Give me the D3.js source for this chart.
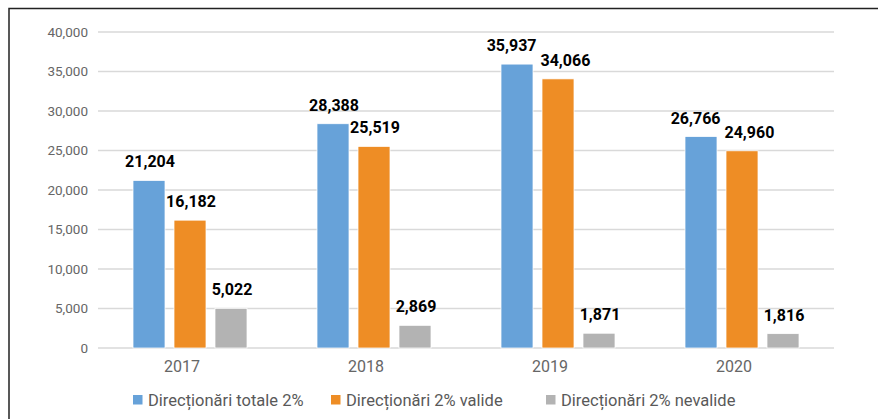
<!DOCTYPE html>
<html><head><meta charset="utf-8">
<script src="https://cdn.jsdelivr.net/npm/d3@7"></script>
<style>html,body{margin:0;padding:0;background:#fff;}svg{display:block;font-family:Roboto,"Noto Sans",sans-serif;}</style>
</head><body>
<svg id="c" width="878" height="419"></svg>
<script>
const categories = ["2017","2018","2019","2020"];
const seriesNames = ["Direcționări totale 2%","Direcționări 2% valide","Direcționări 2% nevalide"];
const totale = [21204, 28388, 35937, 26766];
const valide = [16182, 25519, 34066, 24960];
const nevalide = [5022, 2869, 1871, 1816];
const yTicks = [0,5000,10000,15000,20000,25000,30000,35000,40000];
const colors = ["#67a2d9","#ee8d25","#b3b3b3"];

const series = [totale, valide, nevalide];
const svg = d3.select("#c");
// outer frame (top and left edges visible)
svg.append("path").attr("d","M9,419V8.5H878").attr("fill","none").attr("stroke","#222").attr("stroke-width",1.5);

const x0 = d3.scaleBand().domain(categories).range([98,834]);
const y = d3.scaleLinear().domain([0,40000]).range([348,32]);
const barW = 32, gap = 9;
const x1 = d3.scaleBand().domain(d3.range(3)).range([0, barW*3+gap*2]).paddingInner(gap/(barW+gap));

// gridlines
svg.append("g").selectAll("line").data(yTicks).join("line")
  .attr("x1",98).attr("x2",834).attr("y1",d=>y(d)).attr("y2",d=>y(d))
  .attr("stroke","#d9d9d9").attr("stroke-width",1.5);

// y axis
const yAxis = d3.axisLeft(y).tickValues(yTicks).tickFormat(d3.format(",")).tickSize(0).tickPadding(0);
const ga = svg.append("g").attr("transform","translate(88,0)").call(yAxis);
ga.select(".domain").remove();
ga.selectAll("text").attr("fill","#666").style("font-size","13.5px").style("font-family","Roboto");

// x axis
const xAxis = d3.axisBottom(x0).tickSize(0).tickPadding(0);
const gx = svg.append("g").attr("transform","translate(-8,361)").call(xAxis);
gx.select(".domain").remove();
gx.selectAll("text").attr("fill","#666").attr("dy","0.71em").style("font-size","16px").style("font-family","Roboto");

// bars
const groupOffset = (x0.bandwidth() - (barW*3+gap*2))/2;
const labelSel = [];
series.forEach((vals,si)=>{
  const g = svg.append("g");
  g.selectAll("rect").data(vals).join("rect")
    .attr("x",(d,i)=>x0(categories[i])+groupOffset+x1(si))
    .attr("y",d=>y(d)).attr("width",x1.bandwidth()).attr("height",d=>y(0)-y(d))
    .attr("fill",colors[si]).attr("stroke","#fff").attr("stroke-width",0.75);
  labelSel.push(g.selectAll("text").data(vals).join("text")
    .attr("x",(d,i)=>x0(categories[i])+groupOffset+x1(si)+x1.bandwidth()/2+1)
    .attr("y",d=>y(d)-13)
    .attr("text-anchor","middle").attr("fill","#000")
    .style("font-size","16px").style("font-weight","bold").style("font-family","Roboto")
    .text(d=>d3.format(",")(d)));
});

// resolve overlapping labels between neighbouring series (like the spreadsheet does)
categories.forEach((c,i)=>{
  const a = labelSel[0].nodes()[i], b = labelSel[1].nodes()[i];
  const ya = +a.getAttribute("y"), yb = +b.getAttribute("y");
  if (Math.abs(ya-yb) < 18) {
    const ba = a.getBBox(), bb = b.getBBox();
    const overlap = (ba.x+ba.width+4) - bb.x;
    if (overlap > 0) {
      a.setAttribute("x", +a.getAttribute("x") - overlap/2);
      b.setAttribute("x", +b.getAttribute("x") + overlap/2);
    }
  }
});

// legend
const legendX = [133, 331, 546];
const lg = svg.append("g");
seriesNames.forEach((n,i)=>{
  lg.append("rect").attr("x",legendX[i]).attr("y",395).attr("width",9.5).attr("height",9.5).attr("fill",colors[i]);
  lg.append("text").attr("x",legendX[i]+15).attr("y",406).attr("fill","#595959")
    .style("font-size","16.5px").style("font-family","Roboto").text(n);
});
</script>
</body></html>
